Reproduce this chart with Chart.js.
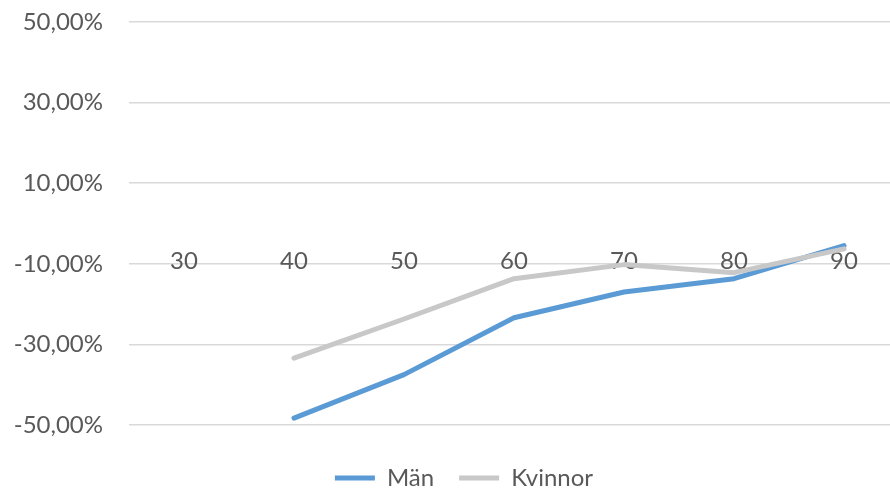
<!DOCTYPE html>
<html>
<head>
<meta charset="utf-8">
<script src="https://cdn.jsdelivr.net/npm/chart.js@4/dist/chart.umd.min.js"></script>
<style>
  html, body { margin: 0; padding: 0; background: #ffffff; overflow: hidden; }
  #frame { width: 890px; height: 489px; overflow: hidden; position: relative; }
  #wrap { width: 928px; height: 500px; position: absolute; left: 0; top: 0; }
</style>
</head>
<body>
<div id="frame"><div id="wrap"><canvas id="chart"></canvas></div></div>
<script>
// Age groups along the horizontal axis
const ages = ['30', '40', '50', '60', '70', '80', '90'];

// Change per age group, in percent
const man = [null, -48.3, -37.5, -23.4, -17.0, -13.7, -5.5];
const kvinnor = [null, -33.4, -23.7, -13.7, -10.2, -12.2, -6.3];

// Value axis tick positions, in percent
const yTicks = [-50, -30, -10, 10, 30, 50];

const textColor = '#595959';
const baseFont = { family: 'Lato', size: 24 };

const fmtPercent = v => v.toFixed(2).replace('.', ',') + '%';

new Chart(document.getElementById('chart'), {
  type: 'line',
  data: {
    labels: ages,
    datasets: [
      {
        label: 'Män',
        data: man,
        borderColor: '#5b9bd5',
        backgroundColor: '#5b9bd5',
        borderWidth: 5,
        borderCapStyle: 'round',
        borderJoinStyle: 'round',
        pointRadius: 0,
        tension: 0,
        order: 1
      },
      {
        label: 'Kvinnor',
        data: kvinnor,
        borderColor: '#c8c8c8',
        backgroundColor: '#c8c8c8',
        borderWidth: 5,
        borderCapStyle: 'round',
        borderJoinStyle: 'round',
        pointRadius: 0,
        tension: 0,
        order: 0
      }
    ]
  },
  options: {
    responsive: true,
    maintainAspectRatio: false,
    animation: false,
    events: [],
    layout: { padding: { left: 0, right: 0, top: 22, bottom: 0 } },
    scales: {
      x: {
        type: 'category',
        offset: true,
        position: { y: 0 },
        z: 1,
        grid: { display: false, drawTicks: false },
        border: { display: false },
        ticks: {
          color: textColor,
          font: baseFont,
          padding: 23,
          maxRotation: 0,
          autoSkip: false
        }
      },
      y: {
        position: 'left',
        min: -50,
        max: 50,
        afterBuildTicks: scale => { scale.ticks = yTicks.map(v => ({ value: v })); },
        afterFit: scale => { scale.width = 129; },
        grid: {
          color: '#d9d9d9',
          lineWidth: 1.5,
          drawTicks: true,
          tickLength: 26,
          tickColor: 'rgba(0,0,0,0)'
        },
        border: { display: false },
        ticks: {
          color: textColor,
          font: baseFont,
          padding: 0,
          callback: v => fmtPercent(v)
        }
      },
      // empty right-hand gutter so the legend sits centred on the whole figure
      gutter: {
        type: 'linear',
        axis: 'y',
        position: 'right',
        afterFit: scale => { scale.width = 29; },
        grid: { display: false, drawTicks: false },
        border: { display: false },
        ticks: { display: false }
      }
    },
    plugins: {
      tooltip: { enabled: false },
      legend: {
        position: 'bottom',
        title: { display: true, text: '', font: { size: 10, lineHeight: 1 }, padding: { top: 6, bottom: 0 } },
        labels: {
          color: textColor,
          font: baseFont,
          usePointStyle: true,
          pointStyle: 'line',
          pointStyleWidth: 40,
          padding: 25,
          sort: (a, b) => a.datasetIndex - b.datasetIndex
        }
      }
    }
  }
});
</script>
</body>
</html>
